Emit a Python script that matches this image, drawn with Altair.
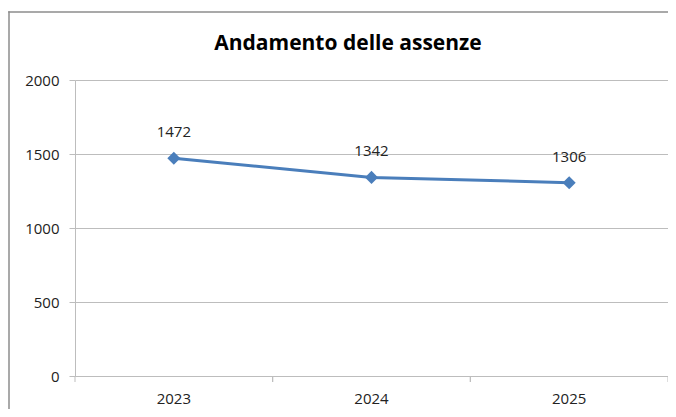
import altair as alt
import pandas as pd

years = ["2023", "2024", "2025"]
absences = [1472, 1342, 1306]
y_ticks = [0, 500, 1000, 1500, 2000]
chart_title = "Andamento delle assenze"

df = pd.DataFrame({"year": years, "assenze": absences})

FONT = "Open Sans"
BLUE = "#4a7ebb"
GRID = "#bdbdbd"
FRAME = "#8c8c8c"

xscale = alt.Scale(domain=years, paddingInner=0, paddingOuter=0)
yscale = alt.Scale(domain=[0, 2000], nice=False)

base = alt.Chart(df)
one = alt.Chart(pd.DataFrame({"a": [0]}))

frame_left = one.mark_rect(fill=FRAME, strokeWidth=0, clip=False).encode(
    x=alt.value(-66.75), x2=alt.value(-65.25), y=alt.value(-68.75), y2=alt.value(330))
frame_top = one.mark_rect(fill=FRAME, strokeWidth=0, clip=False).encode(
    x=alt.value(-66.75), x2=alt.value(600), y=alt.value(-68.75), y2=alt.value(-67.25))

title = one.mark_text(fontSize=21, font=FONT, fontWeight="bold", color="#000000",
                      baseline="alphabetic", align="center").encode(
    x=alt.value(273), y=alt.value(-30), text=alt.value(chart_title))

line = base.mark_line(color=BLUE, strokeWidth=3).encode(
    x=alt.X("year:N", scale=xscale, sort=years,
            axis=alt.Axis(title=None, labelAngle=0, ticks=False, domain=True,
                          domainColor=GRID, labelFontSize=15, labelFont=FONT,
                          labelColor="#222222", labelPadding=15, grid=False)),
    y=alt.Y("assenze:Q", scale=yscale,
            axis=alt.Axis(title=None, values=y_ticks, format="d", tickSize=6,
                          tickColor=GRID, domain=True, domainColor=GRID, grid=True,
                          gridColor=GRID, labelFontSize=15, labelFont=FONT,
                          labelColor="#222222", labelPadding=10)),
)

points = base.mark_point(shape="diamond", filled=True, size=170, color=BLUE, opacity=1).encode(
    x=alt.X("year:N", scale=xscale, sort=years),
    y=alt.Y("assenze:Q", scale=yscale),
)

labels = base.mark_text(dy=-26, fontSize=15, font=FONT, color="#222222").encode(
    x=alt.X("year:N", scale=xscale, sort=years),
    y=alt.Y("assenze:Q", scale=yscale),
    text=alt.Text("assenze:Q", format="d"),
)

ticks_left = base.mark_rule(color=GRID, strokeWidth=1).encode(
    x=alt.X("year:N", scale=xscale, sort=years, bandPosition=0),
    y=alt.value(296), y2=alt.value(302),
)
ticks_right = base.mark_rule(color=GRID, strokeWidth=1).encode(
    x=alt.X("year:N", scale=xscale, sort=years, bandPosition=1),
    y=alt.value(296), y2=alt.value(302),
)

chart = alt.layer(frame_left, frame_top, title, line, ticks_left, ticks_right,
                  points, labels).properties(
    width=593,
    height=296,
    autosize=alt.AutoSizeParams(type="none"),
    padding={"left": 67, "top": 72, "right": 0, "bottom": 33},
).configure_view(stroke="transparent")

chart.save("out.html", embed_options={"renderer": "svg", "actions": False})
